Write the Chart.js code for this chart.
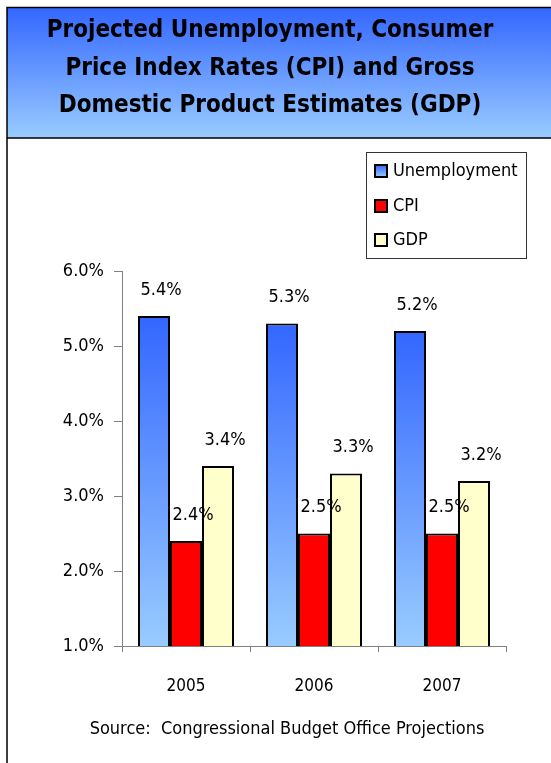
<!DOCTYPE html>
<html>
<head>
<meta charset="utf-8">
<script src="https://cdn.jsdelivr.net/npm/chart.js@4/dist/chart.umd.min.js"></script>
<style>
html,body{margin:0;padding:0;background:#fff;}
#wrap{width:551px;height:763px;position:relative;}
</style>
</head>
<body>
<div id="wrap"><canvas id="c" width="551" height="763"></canvas></div>
<script>
const titleLines = ["Projected Unemployment, Consumer", "Price Index Rates (CPI) and Gross", "Domestic Product Estimates (GDP)"];
const sourceText = "Source:  Congressional Budget Office Projections";
const categories = ["2005", "2006", "2007"];
const unemployment = [5.4, 5.3, 5.2];
const cpi = [2.4, 2.5, 2.5];
const gdp = [3.4, 3.3, 3.2];
const seriesNames = ["Unemployment", "CPI", "GDP"];
const yTicks = [1, 2, 3, 4, 5, 6];

const FONT = '"DejaVu Sans Condensed", "DejaVu Sans", sans-serif';

function unempGradient(context) {
  const chart = context.chart;
  const ca = chart.chartArea;
  if (!ca || context.raw === undefined) return '#3366ff';
  const ys = chart.scales.y;
  const top = ys.getPixelForValue(context.raw);
  const g = chart.ctx.createLinearGradient(0, top, 0, ca.bottom);
  g.addColorStop(0, '#3366ff');
  g.addColorStop(1, '#99ccff');
  return g;
}

const framePlugin = {
  id: 'frame',
  beforeDraw(chart) {
    const ctx = chart.ctx;
    ctx.save();
    ctx.fillStyle = '#ffffff';
    ctx.fillRect(0, 0, chart.width, chart.height);
    const g = ctx.createLinearGradient(0, 7, 0, 138);
    g.addColorStop(0, '#3366ff');
    g.addColorStop(1, '#99ccff');
    ctx.fillStyle = g;
    ctx.fillRect(7, 7, chart.width - 7, 131);
    ctx.strokeStyle = '#000';
    ctx.lineWidth = 1.5;
    ctx.beginPath();
    ctx.moveTo(chart.width, 7.5);
    ctx.lineTo(7, 7.5);
    ctx.lineTo(7, chart.height);
    ctx.moveTo(7, 138);
    ctx.lineTo(chart.width, 138);
    ctx.stroke();
    ctx.fillStyle = '#000';
    ctx.font = 'bold 24px ' + FONT;
    ctx.textAlign = 'center';
    ctx.textBaseline = 'middle';
    titleLines.forEach((t, i) => ctx.fillText(t, 270, 31 + i * 37.5));
    ctx.font = '18px ' + FONT;
    ctx.fillText(sourceText, 287, 729);
    ctx.restore();
  },
  afterDatasetsDraw(chart) {
    const ctx = chart.ctx;
    ctx.save();
    ctx.fillStyle = '#000';
    ctx.font = '18px ' + FONT;
    ctx.textAlign = 'center';
    ctx.textBaseline = 'middle';
    chart.data.datasets.forEach((ds, di) => {
      chart.getDatasetMeta(di).data.forEach((bar, i) => {
        ctx.fillText(ds.data[i].toFixed(1) + '%', bar.x + 7, bar.y - 26);
      });
    });
    ctx.strokeStyle = '#333';
    ctx.lineWidth = 1;
    ctx.strokeRect(366.5, 152.5, 160, 106);
    ctx.font = '18px ' + FONT;
    ctx.textAlign = 'left';
    const rows = [171, 206, 240];
    chart.data.datasets.forEach((ds, di) => {
      const y = rows[di];
      let fill = ds.legendColor;
      if (di === 0) {
        const g = ctx.createLinearGradient(0, y - 6, 0, y + 6);
        g.addColorStop(0, '#3366ff'); g.addColorStop(1, '#99ccff');
        fill = g;
      }
      ctx.fillStyle = fill;
      ctx.fillRect(375, y - 6, 12, 12);
      ctx.strokeStyle = '#000';
      ctx.lineWidth = 2;
      ctx.strokeRect(375, y - 6, 12, 12);
      ctx.fillStyle = '#000';
      ctx.fillText(ds.label, 393, y);
    });
    ctx.restore();
  }
};

new Chart(document.getElementById('c'), {
  type: 'bar',
  data: {
    labels: categories,
    datasets: [
      { label: seriesNames[0], data: unemployment, backgroundColor: unempGradient, legendColor: '#6699ff', borderColor: '#000', borderWidth: 2 },
      { label: seriesNames[1], data: cpi, backgroundColor: '#ff0000', legendColor: '#ff0000', borderColor: '#000', borderWidth: 2 },
      { label: seriesNames[2], data: gdp, backgroundColor: '#ffffcc', legendColor: '#ffffcc', borderColor: '#000', borderWidth: 2 }
    ]
  },
  options: {
    responsive: false,
    animation: false,
    devicePixelRatio: 1,
    layout: { padding: { top: 271, right: 45, left: 0, bottom: 0 } },
    datasets: { bar: { barPercentage: 1, categoryPercentage: 0.75 } },
    plugins: { legend: { display: false }, title: { display: false }, tooltip: { enabled: false } },
    scales: {
      x: {
        afterFit(s) { s.height = 117; },
        grid: { drawOnChartArea: false, color: '#808080', tickLength: 6, offset: true },
        border: { color: '#808080', width: 1 },
        ticks: { color: '#000', font: { family: FONT, size: 17 }, padding: 24 }
      },
      y: {
        min: 1, max: 6,
        afterFit(s) { s.width = 122; },
        afterBuildTicks(s) { s.ticks = yTicks.map(v => ({ value: v })); },
        grid: { drawOnChartArea: false, color: '#808080', tickLength: 8 },
        border: { color: '#808080', width: 1 },
        ticks: { color: '#000', font: { family: FONT, size: 18 }, padding: 10, callback: v => v.toFixed(1) + '%' }
      }
    }
  },
  plugins: [framePlugin]
});
</script>
</body>
</html>
